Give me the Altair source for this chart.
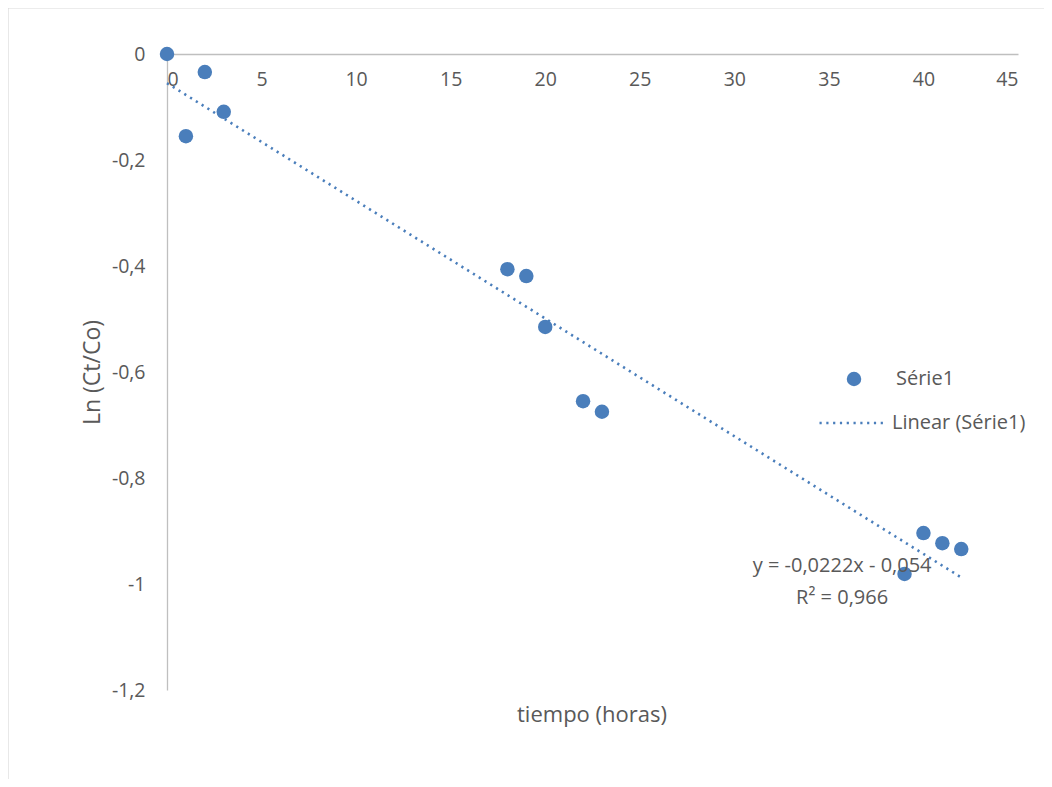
import altair as alt
import pandas as pd

# Data
tiempo = [0, 1, 2, 3, 18, 19, 20, 22, 23, 39, 40, 41, 42]
ln_ct_co = [0.0, -0.155, -0.034, -0.109, -0.406, -0.419, -0.515, -0.655, -0.675,
            -0.981, -0.904, -0.923, -0.934]
serie_name = "Série1"
trend_name = "Linear (Série1)"
eq_lines = ["y = -0,0222x - 0,054", "R² = 0,966"]
eq_x = [35.7, 35.7]
eq_y = [-0.966, -1.026]
x_ticks = [0, 5, 10, 15, 20, 25, 30, 35, 40, 45]
y_ticks = [0, -0.2, -0.4, -0.6, -0.8, -1.0, -1.2]

FONT = "Open Sans"
TXT = "#595959"
BLUE = "#4a7ebb"
W, H = 851, 636

df = pd.DataFrame({"x": tiempo, "y": ln_ct_co, "serie": serie_name})
eq_df = pd.DataFrame({"x": eq_x, "y": eq_y, "t": eq_lines})

xscale = alt.Scale(domain=[0, 45], nice=False)
yscale = alt.Scale(domain=[-1.2, 0], nice=False)

xaxis = alt.Axis(orient="bottom", offset=-H, values=x_ticks, ticks=False, grid=False,
                 domainColor="#bfbfbf", domainWidth=1.3, labelFont=FONT, labelFontSize=19.5,
                 labelColor=TXT, labelPadding=16, title=None)
yaxis = alt.Axis(values=y_ticks, ticks=False, grid=False, domainColor="#bfbfbf",
                 domainWidth=1.3, labelFont=FONT, labelFontSize=19.5, labelColor=TXT,
                 labelPadding=22,
                 labelExpr="replace(replace(format(datum.value, '.1~f'), '.', ','), '\u2212', '-')",
                 title="Ln (Ct/Co)", titleFont=FONT, titleFontSize=23,
                 titleFontWeight="normal", titleColor=TXT, titlePadding=7)

base = alt.Chart(df)

frame = base.mark_rect(filled=False, stroke="#d9d9d9", strokeWidth=1.2).encode(
    x=alt.value(-159), y=alt.value(-46), x2=alt.value(1000), y2=alt.value(900)
).transform_filter("datum.x == 0")

points = base.mark_circle(size=210, opacity=1).encode(
    x=alt.X("x:Q", scale=xscale, axis=xaxis),
    y=alt.Y("y:Q", scale=yscale, axis=yaxis),
    color=alt.Color("serie:N", scale=alt.Scale(domain=[serie_name], range=[BLUE]),
                    legend=alt.Legend(orient="none", legendX=677, legendY=315, title=None,
                                      symbolType="circle", symbolSize=210, labelOffset=32,
                                      labelFont=FONT, labelFontSize=20, labelColor=TXT,
                                      padding=0)),
)

trend = base.transform_regression("x", "y").transform_calculate(
    serie=f"'{trend_name}'"
).mark_line(color=BLUE, strokeWidth=2.6).encode(
    x=alt.X("x:Q", scale=xscale),
    y=alt.Y("y:Q", scale=yscale),
    strokeDash=alt.StrokeDash("serie:N",
                              scale=alt.Scale(domain=[trend_name], range=[[2.2, 4.6]]),
                              legend=alt.Legend(orient="none", legendX=651, legendY=334,
                                                title=None, symbolType="stroke",
                                                symbolSize=4489, symbolStrokeColor=BLUE,
                                                symbolStrokeWidth=2.6, labelOffset=4,
                                                labelFont=FONT, labelFontSize=20,
                                                labelColor=TXT, padding=0)),
)

eq = alt.Chart(eq_df).mark_text(font=FONT, fontSize=20, color=TXT, align="center",
                                baseline="middle").encode(
    x=alt.X("x:Q", scale=xscale), y=alt.Y("y:Q", scale=yscale), text="t:N")

xtitle = alt.Chart(pd.DataFrame({"t": ["tiempo (horas)"]})).mark_text(
    font=FONT, fontSize=22, color=TXT, align="center", baseline="middle"
).encode(x=alt.value(W / 2 - 0.5), y=alt.value(661), text="t:N")

chart = alt.layer(frame, trend, points, eq, xtitle).resolve_legend(
    color="independent", strokeDash="independent"
).properties(
    width=W, height=H,
    padding={"left": 159, "top": 46, "right": 26, "bottom": 89},
    autosize=alt.AutoSizeParams(type="none"),
    background="white",
).configure_view(stroke=None)

chart.save("out.html", embed_options={"renderer": "svg", "actions": False})
